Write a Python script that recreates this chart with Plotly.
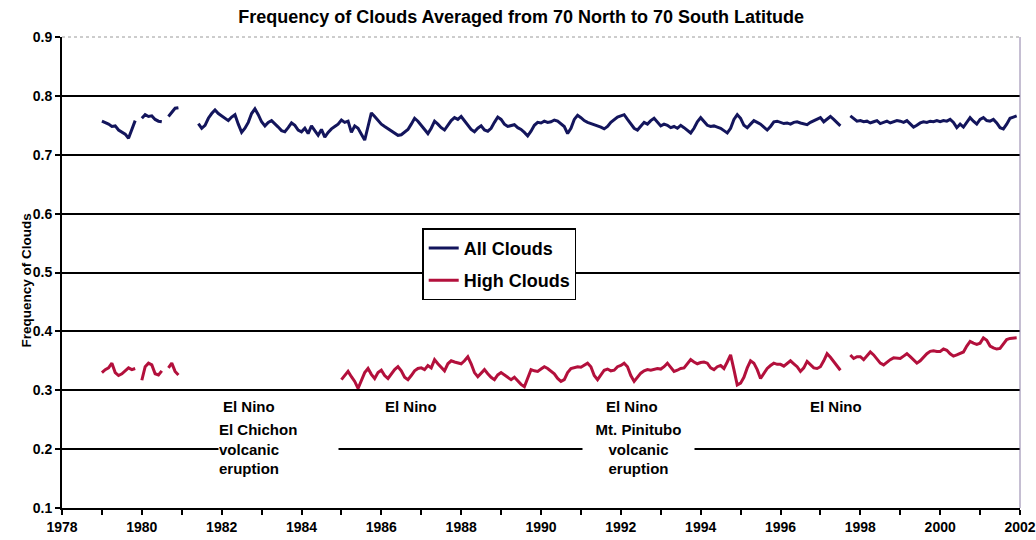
import plotly.graph_objects as go

# monthly values, Jan 1979 .. Dec 2001 (None = missing month)
start_year = 1979
all_clouds = [
    0.757, 0.755, 0.752, 0.748, 0.749, 0.742, 0.738, 0.735, 0.728, 0.745, 0.758, None,   # 1979
    0.762, 0.768, 0.765, 0.766, 0.760, 0.757, 0.756, None, 0.765, 0.773, 0.779, 0.780,   # 1980
    None, None, None, None, None, 0.753, 0.745, 0.750, 0.762, 0.770, 0.776, 0.770,       # 1981
    0.766, 0.762, 0.758, 0.764, 0.768, 0.752, 0.738, 0.745, 0.755, 0.770, 0.778, 0.768,  # 1982
    0.756, 0.749, 0.755, 0.758, 0.753, 0.747, 0.741, 0.739, 0.746, 0.754, 0.750, 0.742,  # 1983
    0.739, 0.745, 0.736, 0.749, 0.741, 0.733, 0.743, 0.730, 0.738, 0.744, 0.748, 0.752,  # 1984
    0.759, 0.755, 0.757, 0.738, 0.749, 0.745, 0.735, 0.725, 0.748, 0.771, 0.765, 0.758,  # 1985
    0.752, 0.748, 0.744, 0.740, 0.737, 0.733, 0.734, 0.738, 0.743, 0.752, 0.762, 0.757,  # 1986
    0.750, 0.742, 0.736, 0.745, 0.757, 0.752, 0.746, 0.742, 0.750, 0.758, 0.763, 0.760,  # 1987
    0.765, 0.757, 0.750, 0.743, 0.739, 0.745, 0.749, 0.742, 0.740, 0.745, 0.755, 0.764,  # 1988
    0.760, 0.752, 0.748, 0.750, 0.751, 0.746, 0.743, 0.738, 0.732, 0.740, 0.750, 0.755,  # 1989
    0.754, 0.757, 0.755, 0.756, 0.759, 0.757, 0.752, 0.748, 0.736, 0.745, 0.760, 0.767,  # 1990
    0.763, 0.758, 0.755, 0.753, 0.751, 0.750, 0.747, 0.744, 0.748, 0.755, 0.760, 0.764,  # 1991
    0.766, 0.768, 0.760, 0.752, 0.745, 0.742, 0.748, 0.755, 0.752, 0.758, 0.762, 0.756,  # 1992
    0.749, 0.752, 0.750, 0.746, 0.748, 0.745, 0.750, 0.746, 0.742, 0.737, 0.745, 0.756,  # 1993
    0.763, 0.757, 0.750, 0.748, 0.749, 0.747, 0.745, 0.741, 0.737, 0.745, 0.760, 0.768,  # 1994
    0.762, 0.750, 0.746, 0.752, 0.758, 0.755, 0.752, 0.747, 0.742, 0.748, 0.756, 0.757,  # 1995
    0.755, 0.753, 0.754, 0.752, 0.755, 0.756, 0.754, 0.753, 0.751, 0.755, 0.758, 0.760,  # 1996
    0.763, 0.756, 0.760, 0.765, 0.760, 0.754, 0.749, None, None, 0.766, 0.762, 0.757,    # 1997
    0.758, 0.756, 0.757, 0.754, 0.756, 0.758, 0.753, 0.755, 0.757, 0.754, 0.756, 0.758,  # 1998
    0.757, 0.755, 0.758, 0.752, 0.747, 0.750, 0.754, 0.756, 0.755, 0.757, 0.756, 0.758,  # 1999
    0.756, 0.758, 0.757, 0.760, 0.755, 0.746, 0.752, 0.747, 0.755, 0.763, 0.757, 0.752,  # 2000
    0.760, 0.763, 0.758, 0.757, 0.760, 0.754, 0.746, 0.744, 0.752, 0.762, 0.764, 0.766,  # 2001
]
high_clouds = [
    0.330, 0.335, 0.338, 0.346, 0.330, 0.325, 0.328, 0.333, 0.338, 0.335, 0.337, None,   # 1979
    0.317, 0.340, 0.346, 0.343, 0.328, 0.326, 0.333, None, 0.338, 0.346, 0.332, 0.326,   # 1980
    None, None, None, None, None, None, None, None, None, None, None, None,              # 1981
    None, None, None, None, None, None, None, None, None, None, None, None,              # 1982
    None, None, None, None, None, None, None, None, None, None, None, None,              # 1983
    None, None, None, None, None, None, None, None, None, None, None, None,              # 1984
    0.318, 0.325, 0.332, 0.323, 0.315, 0.303, 0.318, 0.330, 0.337, 0.327, 0.320, 0.330,  # 1985
    0.334, 0.325, 0.320, 0.328, 0.335, 0.340, 0.333, 0.322, 0.318, 0.325, 0.333, 0.337,  # 1986
    0.338, 0.335, 0.342, 0.338, 0.352, 0.345, 0.338, 0.333, 0.345, 0.350, 0.348, 0.347,  # 1987
    0.345, 0.350, 0.357, 0.345, 0.330, 0.323, 0.330, 0.335, 0.328, 0.322, 0.318, 0.326,  # 1988
    0.330, 0.326, 0.322, 0.318, 0.322, 0.316, 0.310, 0.306, 0.322, 0.335, 0.333, 0.332,  # 1989
    0.336, 0.340, 0.337, 0.333, 0.328, 0.320, 0.315, 0.318, 0.330, 0.337, 0.338, 0.340,  # 1990
    0.339, 0.342, 0.346, 0.340, 0.325, 0.318, 0.326, 0.334, 0.336, 0.333, 0.334, 0.340,  # 1991
    0.342, 0.346, 0.340, 0.325, 0.315, 0.322, 0.329, 0.333, 0.335, 0.334, 0.336, 0.337,  # 1992
    0.336, 0.340, 0.346, 0.338, 0.332, 0.334, 0.337, 0.338, 0.345, 0.352, 0.348, 0.345,  # 1993
    0.347, 0.348, 0.346, 0.338, 0.335, 0.340, 0.342, 0.337, 0.348, 0.360, 0.335, 0.309,  # 1994
    0.312, 0.322, 0.338, 0.350, 0.346, 0.335, 0.320, 0.328, 0.337, 0.342, 0.346, 0.344,  # 1995
    0.344, 0.341, 0.345, 0.350, 0.345, 0.340, 0.332, 0.338, 0.349, 0.344, 0.338, 0.337,  # 1996
    0.340, 0.350, 0.362, 0.356, 0.349, 0.342, 0.334, None, None, 0.360, 0.354, 0.357,    # 1997
    0.357, 0.352, 0.358, 0.365, 0.360, 0.352, 0.346, 0.343, 0.348, 0.352, 0.355, 0.354,  # 1998
    0.354, 0.358, 0.362, 0.357, 0.352, 0.346, 0.350, 0.356, 0.362, 0.366, 0.367, 0.366,  # 1999
    0.366, 0.370, 0.368, 0.362, 0.358, 0.360, 0.362, 0.365, 0.375, 0.383, 0.380, 0.378,  # 2000
    0.380, 0.389, 0.385, 0.375, 0.372, 0.370, 0.371, 0.378, 0.386, 0.388, 0.389, 0.389,  # 2001
]
months = [start_year + i / 12 for i in range(len(all_clouds))]

y_ticks = [0.1, 0.2, 0.3, 0.4, 0.5, 0.6, 0.7, 0.8, 0.9]
y_grid = [0.2, 0.3, 0.4, 0.5, 0.6, 0.7, 0.8]

# event notes
el_nino_years = [1982.69, 1986.75, 1992.29, 1997.4]
chichon_text = "El Chichon<br>volcanic<br>eruption"
pinatubo_text = "Mt. Pinitubo<br>volcanic<br>eruption"

FONT = "Liberation Sans"
NAVY = "#13155c"
CRIMSON = "#b3103c"

fig = go.Figure()
fig.add_trace(go.Scatter(x=months, y=all_clouds, name="All Clouds", mode="lines",
                         line=dict(color=NAVY, width=3), connectgaps=False,
                         legendgroup="a"))
fig.add_trace(go.Scatter(x=months, y=high_clouds, name="High Clouds", mode="lines",
                         line=dict(color=CRIMSON, width=3), connectgaps=False,
                         legendgroup="b"))

bold = dict(family=FONT, size=15, color="black", weight="bold")
tick_font = dict(family=FONT, size=14, color="black", weight="bold")

annotations = []
for yr in el_nino_years:
    annotations.append(dict(x=yr, y=0.272, xref="x", yref="y", text="El Nino",
                            showarrow=False, font=bold))
annotations.append(dict(x=1981.92, y=0.2, xref="x", yref="y", text=chichon_text,
                        showarrow=False, font=bold, align="left", xanchor="left",
                        bgcolor="white", width=119, borderpad=0))
annotations.append(dict(x=1992.44, y=0.2, xref="x", yref="y", text=pinatubo_text,
                        showarrow=False, font=bold, align="center", xanchor="center",
                        bgcolor="white", width=111, borderpad=0))
annotations.append(dict(x=-0.047, y=0.484, xref="paper", yref="paper",
                        text="Frequency of Clouds", textangle=-90, showarrow=False,
                        font=dict(family=FONT, size=13.5, color="black", weight="bold")))

fig.update_layout(
    width=1036, height=540,
    margin=dict(l=62, r=16, t=37, b=32),
    paper_bgcolor="white", plot_bgcolor="white",
    title=dict(text="Frequency of Clouds Averaged from 70 North to 70 South Latitude",
               x=0.503, xanchor="center", y=0.9685, yanchor="middle",
               font=dict(family=FONT, size=18, color="black", weight="bold")),
    legend=dict(x=0.376, y=0.594, xanchor="left", yanchor="top",
                bgcolor="white", bordercolor="black", borderwidth=1.5,
                traceorder="grouped", tracegroupgap=6,
                font=dict(family=FONT, size=18, color="black", weight="bold")),
    annotations=annotations,
    xaxis=dict(range=[1978, 2002], tick0=1978, dtick=2, ticks="outside", ticklen=5,
               tickwidth=2, tickcolor="black", showline=True, linecolor="black",
               linewidth=2, showgrid=False, zeroline=False, tickfont=tick_font,
               automargin=False,
               minor=dict(dtick=1, ticks="outside", ticklen=5, tickwidth=1.5,
                          tickcolor="black", showgrid=False)),
    yaxis=dict(range=[0.1, 0.9], tickvals=y_ticks, tickformat=".1f", ticks="outside",
               ticklen=5, tickwidth=2, tickcolor="black", showline=True,
               linecolor="black", linewidth=2, showgrid=False, zeroline=False,
               tickfont=tick_font, automargin=False,
               minor=dict(tickvals=y_grid, ticks="", showgrid=True,
                          gridcolor="black", gridwidth=1.5)),
    shapes=[dict(type="line", xref="paper", yref="paper", x0=1, x1=1, y0=0, y1=1,
                 line=dict(color="#8c7fa6", width=1)),
            dict(type="line", xref="paper", yref="paper", x0=0, x1=1, y0=1, y1=1,
                 line=dict(color="#9a9a9a", width=1, dash="dot"))],
)

# drop the default 8px page margin so the 1036x540 figure fills the window
fig.write_html("out.html", config={"displayModeBar": False},
               post_script="document.body.style.margin = '0';")
